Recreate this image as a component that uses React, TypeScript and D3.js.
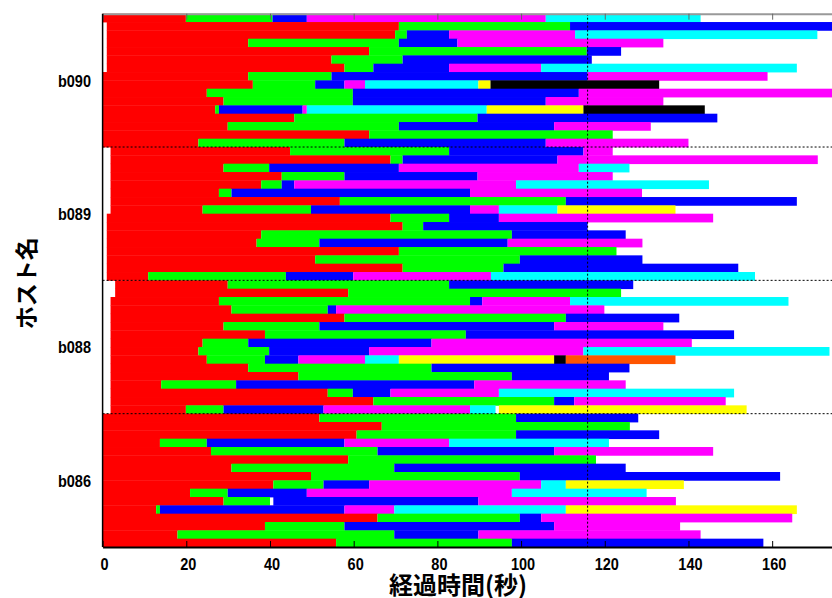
import { useEffect, useRef } from 'react';
import * as d3 from 'd3';

// host names (top to bottom)
const hosts = ["b090", "b089", "b088", "b086"];

// segment colour codes
const palette: Record<string, string> = {
  R: "#ff0000",
  G: "#00ff00",
  B: "#0000ff",
  M: "#ff00ff",
  C: "#00ffff",
  Y: "#ffff00",
  K: "#000000",
  O: "#ff5500",
  W: "none", // idle gap
};

type Row = { start: number; segs: [string, number][] };

// each row: start time, then [colour, end time] for every phase
const b090Rows: Row[] = [
  { start: 0, segs: [["R", 19.9], ["G", 40.6], ["B", 48.8], ["M", 105.9], ["C", 142.9]] },
  { start: 1, segs: [["R", 70.8], ["G", 111.7], ["B", 180]] },
  { start: 1, segs: [["R", 69.9], ["G", 72.7], ["B", 82.8], ["M", 112.9], ["C", 170.8]] },
  { start: 1, segs: [["R", 34.8], ["G", 70.8], ["B", 84.8], ["M", 134.0]] },
  { start: 1, segs: [["R", 63.7], ["G", 115.7], ["B", 123.9]] },
  { start: 1, segs: [["R", 54.7], ["G", 71.7], ["B", 116.9]] },
  { start: 1, segs: [["R", 57.8], ["G", 64.7], ["B", 82.8], ["M", 104.8], ["C", 165.9]] },
  { start: 0, segs: [["R", 34.8], ["G", 54.7], ["B", 115.9], ["M", 158.9]] },
  { start: 0, segs: [["R", 35.9], ["G", 50.8], ["B", 57.8], ["M", 62.7], ["C", 89.8], ["Y", 92.7], ["K", 133.0]] },
  { start: 0, segs: [["R", 24.9], ["G", 59.8], ["B", 113.8], ["M", 180]] },
  { start: 0, segs: [["R", 28.9], ["G", 59.8], ["B", 105.9], ["M", 134.0]] },
  { start: 0, segs: [["R", 26.9], ["G", 27.8], ["B", 47.8], ["M", 48.8], ["C", 91.8], ["Y", 114.9], ["K", 143.9]] },
  { start: 0, segs: [["R", 45.8], ["G", 89.6], ["B", 146.9]] },
  { start: 0, segs: [["R", 29.9], ["G", 70.8], ["B", 107.9], ["M", 131.0]] },
  { start: 0, segs: [["R", 63.7], ["G", 121.9]] },
  { start: 0, segs: [["R", 22.9], ["G", 57.8], ["B", 105.9], ["M", 140.0]] },
];

const b089Rows: Row[] = [
  { start: 1.9, segs: [["R", 44.8], ["G", 82.8], ["B", 114.9], ["M", 121.9]] },
  { start: 1.9, segs: [["R", 68.8], ["G", 71.7], ["B", 108.7], ["M", 170.9]] },
  { start: 1.9, segs: [["R", 28.9], ["G", 39.8], ["B", 70.8], ["M", 113.8], ["C", 125.9]] },
  { start: 1.9, segs: [["R", 42.8], ["G", 57.8], ["B", 89.6], ["M", 121.9]] },
  { start: 1.9, segs: [["R", 37.9], ["G", 42.8], ["B", 45.8], ["M", 98.8], ["C", 144.9]] },
  { start: 1.9, segs: [["R", 27.8], ["G", 30.8], ["B", 87.8], ["M", 128.9]] },
  { start: 1.9, segs: [["R", 56.7], ["G", 110.7], ["B", 165.9]] },
  { start: 1.9, segs: [["R", 23.9], ["G", 49.8], ["B", 87.8], ["M", 94.7], ["C", 108.7], ["Y", 136.9]] },
  { start: 1.0, segs: [["R", 68.8], ["G", 82.8], ["B", 94.7], ["M", 145.9]] },
  { start: 1.0, segs: [["R", 71.7], ["G", 76.6], ["B", 115.9]] },
  { start: 1.0, segs: [["R", 37.9], ["G", 97.8], ["B", 125.0]] },
  { start: 1.0, segs: [["R", 36.8], ["G", 51.8], ["B", 96.8], ["M", 129.0]] },
  { start: 1.0, segs: [["R", 70.8], ["G", 122.8]] },
  { start: 1.0, segs: [["R", 50.8], ["G", 99.7], ["B", 129.0]] },
  { start: 1.0, segs: [["R", 71.7], ["G", 95.8], ["B", 151.9]] },
  { start: 1.0, segs: [["R", 10.9], ["G", 43.8], ["B", 59.9], ["M", 92.8], ["C", 155.9]] },
];

const b088Rows: Row[] = [
  { start: 3.0, segs: [["R", 29.9], ["G", 82.8], ["B", 126.8]] },
  { start: 3.0, segs: [["R", 58.7], ["G", 123.9]] },
  { start: 1.9, segs: [["R", 27.8], ["G", 87.8], ["B", 90.7], ["M", 111.7], ["C", 163.9]] },
  { start: 1.9, segs: [["R", 30.8], ["G", 53.8], ["B", 55.8], ["M", 119.9]] },
  { start: 1.9, segs: [["R", 57.8], ["G", 110.7], ["B", 137.8]] },
  { start: 1.9, segs: [["R", 28.9], ["G", 51.8], ["B", 107.9], ["M", 134.0]] },
  { start: 1.9, segs: [["R", 38.8], ["G", 86.8], ["B", 150.9]] },
  { start: 1.9, segs: [["R", 23.9], ["G", 34.8], ["B", 78.6], ["M", 140.8]] },
  { start: 1.9, segs: [["R", 22.9], ["G", 39.8], ["B", 63.7], ["M", 114.9], ["C", 173.7]] },
  { start: 1.9, segs: [["R", 24.9], ["G", 38.8], ["B", 46.8], ["M", 62.7], ["C", 70.8], ["Y", 107.9], ["K", 110.7], ["O", 136.9]] },
  { start: 1.9, segs: [["R", 34.8], ["G", 78.6], ["B", 125.9]] },
  { start: 1.9, segs: [["R", 46.8], ["G", 97.8], ["B", 121.0]] },
  { start: 1.9, segs: [["R", 14.0], ["G", 31.9], ["B", 88.8], ["M", 125.0]] },
  { start: 1.9, segs: [["R", 53.8], ["G", 59.8], ["B", 68.8], ["M", 94.7], ["C", 150.9]] },
  { start: 1.9, segs: [["R", 64.7], ["G", 107.9], ["B", 112.7], ["M", 148.9]] },
  { start: 1.9, segs: [["R", 19.9], ["G", 28.9], ["B", 52.8], ["M", 87.8], ["C", 93.9], ["W", 94.7], ["Y", 153.9]] },
];

const b086Rows: Row[] = [
  { start: 0, segs: [["R", 51.8], ["G", 98.8], ["B", 128.0]] },
  { start: 0, segs: [["R", 66.7], ["G", 126.0]] },
  { start: 0, segs: [["R", 60.7], ["G", 98.8], ["B", 133.0]] },
  { start: 0, segs: [["R", 13.7], ["G", 24.9], ["B", 57.8], ["M", 82.8], ["C", 121.0]] },
  { start: 0, segs: [["R", 25.9], ["G", 65.7], ["B", 107.9], ["M", 145.9]] },
  { start: 0, segs: [["R", 58.7], ["G", 117.9]] },
  { start: 0, segs: [["R", 30.8], ["G", 69.7], ["B", 125.0]] },
  { start: 0, segs: [["R", 49.8], ["G", 99.7], ["B", 161.9]] },
  { start: 0, segs: [["R", 40.8], ["G", 52.8], ["B", 63.7], ["M", 104.8], ["C", 110.7], ["Y", 138.9]] },
  { start: 0, segs: [["R", 20.9], ["G", 29.9], ["B", 48.8], ["M", 97.8], ["C", 130.0]] },
  { start: 0, segs: [["R", 28.9], ["G", 40.0], ["W", 40.8], ["B", 89.8], ["M", 137.0]] },
  { start: 0, segs: [["R", 12.8], ["G", 13.7], ["B", 57.8], ["M", 69.7], ["C", 110.7], ["Y", 165.9]] },
  { start: 0, segs: [["R", 65.7], ["G", 99.7], ["B", 104.8], ["M", 164.8]] },
  { start: 0, segs: [["R", 38.8], ["G", 57.8], ["B", 107.9], ["M", 138.0]] },
  { start: 0, segs: [["R", 17.9], ["G", 69.7], ["B", 89.8], ["M", 142.9]] },
  { start: 0, segs: [["R", 55.8], ["G", 97.8], ["B", 157.9]] },
];

const xTicks = [0, 20, 40, 60, 80, 100, 120, 140, 160];
const refTime = 115.9; // dotted vertical marker

export default function App() {
  const svgRef = useRef<SVGSVGElement>(null);

  useEffect(() => {
    if (!svgRef.current) return;
    d3.select(svgRef.current).selectAll("*").remove();

    const W = 832, H = 598;
    const left = 102.6, top = 13.7, bottom = 547;
    const svg = d3.select(svgRef.current).attr("width", W).attr("height", H);

    const allRows = [b090Rows, b089Rows, b088Rows, b086Rows];
    const perHost = 16;
    const nRows = allRows.length * perHost;

    const x = d3.scaleLinear().domain([0, 174.3]).range([left, W]);
    const y = d3.scaleBand<number>().domain(d3.range(nRows)).range([top, bottom]).padding(0);

    // flatten rows into segments
    const segs: { row: number; x0: number; x1: number; c: string }[] = [];
    allRows.forEach((rows, h) => {
      rows.forEach((r, i) => {
        let prev = r.start;
        r.segs.forEach(([c, end]) => {
          segs.push({ row: h * perHost + i, x0: prev, x1: end, c });
          prev = end;
        });
      });
    });

    svg.append("g")
      .selectAll("rect")
      .data(segs.filter(d => d.c !== "W"))
      .enter()
      .append("rect")
      .attr("x", d => x(d.x0))
      .attr("y", d => y(d.row)!)
      .attr("width", d => Math.max(0, x(d.x1) - x(d.x0)))
      .attr("height", y.bandwidth() + 0.4)
      .attr("fill", d => palette[d.c]);

    // host separators
    svg.append("g")
      .selectAll("line")
      .data(d3.range(1, hosts.length))
      .enter()
      .append("line")
      .attr("x1", left)
      .attr("x2", W)
      .attr("y1", d => y(d * perHost)!)
      .attr("y2", d => y(d * perHost)!)
      .attr("stroke", "#000")
      .attr("stroke-width", 1)
      .attr("stroke-dasharray", "2,2");

    svg.append("line")
      .attr("x1", x(refTime))
      .attr("x2", x(refTime))
      .attr("y1", top)
      .attr("y2", bottom)
      .attr("stroke", "#000")
      .attr("stroke-width", 1)
      .attr("stroke-dasharray", "2,2");

    // top axis (ticks only)
    const topAxis = svg.append("g")
      .attr("transform", `translate(0,${top})`)
      .call(d3.axisTop(x).tickValues(xTicks).tickSize(-6).tickSizeOuter(0).tickFormat(() => ""));
    topAxis.select(".domain").attr("stroke", "#999").attr("stroke-width", 2);
    topAxis.selectAll(".tick line").attr("stroke", "#666");

    // bottom axis
    const botAxis = svg.append("g")
      .attr("transform", `translate(0,${bottom})`)
      .call(d3.axisBottom(x).tickValues(xTicks).tickSize(-6).tickSizeOuter(0).tickPadding(11.5));
    botAxis.select(".domain").attr("stroke", "#000").attr("stroke-width", 2);
    botAxis.selectAll(".tick line").attr("stroke", "#000");
    botAxis.selectAll(".tick text")
      .attr("fill", "#000")
      .attr("transform", "translate(1.5,0) scale(0.88,1)")
      .style("font-family", "'Liberation Sans', Arial, sans-serif")
      .style("font-weight", "bold")
      .style("font-size", "16.5px");

    // left spine
    svg.append("line")
      .attr("x1", left).attr("x2", left)
      .attr("y1", top).attr("y2", bottom)
      .attr("stroke", "#000")
      .attr("stroke-width", 1.5);

    // host labels
    svg.append("g")
      .selectAll("text")
      .data(hosts)
      .enter()
      .append("text")
      .attr("transform", (d, i) => {
        const cy = y(i * perHost)! + (y.bandwidth() * perHost) / 2;
        return `translate(91,${cy + 6.2}) scale(0.88,1)`;
      })
      .attr("text-anchor", "end")
      .style("font-family", "'Liberation Sans', Arial, sans-serif")
      .style("font-weight", "bold")
      .style("font-size", "16.5px")
      .text(d => d);

    // axis titles
    svg.append("text")
      .attr("transform", `translate(34.5,${(top + bottom) / 2 + 3}) rotate(-90)`)
      .attr("text-anchor", "middle")
      .style("font-family", "'Noto Sans CJK JP', sans-serif")
      .style("font-weight", "bold")
      .style("font-size", "23px")
      .text("ホスト名");

    svg.append("text")
      .attr("transform", `translate(458,594)`)
      .attr("text-anchor", "middle")
      .style("font-family", "'Noto Sans CJK JP', sans-serif")
      .style("font-weight", "bold")
      .style("font-size", "24px")
      .text("経過時間(秒)");
  }, []);

  return (
    <div>
      <style>{`body{margin:0;background:#fff}`}</style>
      <svg ref={svgRef} style={{ display: "block" }} />
    </div>
  );
}
